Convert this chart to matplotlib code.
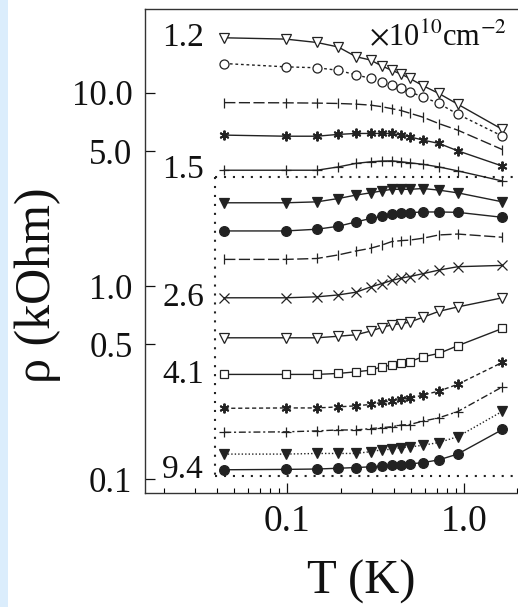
import matplotlib
matplotlib.use("Agg")
import matplotlib.pyplot as plt
from matplotlib.patches import Rectangle
import numpy as np

plt.rcParams['font.family'] = ['Liberation Serif', 'DejaVu Serif']
plt.rcParams['mathtext.fontset'] = 'stix'

# Temperaturen (K), gleich fuer alle Kurven
T = [0.044, 0.098, 0.147, 0.194, 0.245, 0.296, 0.342, 0.39, 0.442, 0.492, 0.586, 0.72, 0.92, 1.65]

# Widerstand (kOhm), von oben nach unten
rho_01 = [19.3, 19.0, 18.25, 17.3, 15.4, 14.8, 13.8, 13.1, 12.5, 11.9, 10.9, 9.94, 8.75, 6.47]
rho_02 = [14.2, 13.65, 13.5, 13.1, 12.4, 11.9, 11.4, 10.97, 10.55, 10.13, 9.54, 8.82, 7.77, 5.97]
rho_03 = [8.91, 8.89, 8.86, 8.82, 8.75, 8.65, 8.49, 8.29, 8.10, 7.86, 7.49, 6.94, 6.42, 5.09]
rho_04 = [6.05, 5.97, 5.97, 6.10, 6.17, 6.17, 6.17, 6.17, 6.05, 5.93, 5.70, 5.48, 5.02, 4.18]
rho_05 = [3.98, 3.98, 3.98, 4.14, 4.32, 4.40, 4.44, 4.45, 4.40, 4.35, 4.27, 4.14, 3.95, 3.50]
rho_06 = [2.70, 2.70, 2.73, 2.84, 2.96, 3.04, 3.11, 3.17, 3.17, 3.17, 3.20, 3.14, 3.04, 2.73]
rho_07 = [1.93, 1.93, 1.97, 2.04, 2.15, 2.24, 2.30, 2.35, 2.38, 2.40, 2.42, 2.42, 2.41, 2.27]
rho_08 = [1.375, 1.375, 1.39, 1.45, 1.52, 1.57, 1.63, 1.70, 1.72, 1.73, 1.77, 1.84, 1.86, 1.79]
rho_09 = [0.87, 0.87, 0.88, 0.90, 0.93, 0.99, 1.03, 1.07, 1.10, 1.12, 1.16, 1.21, 1.26, 1.28]
rho_10 = [0.54, 0.54, 0.54, 0.55, 0.56, 0.585, 0.61, 0.63, 0.64, 0.65, 0.69, 0.74, 0.78, 0.87]
rho_11 = [0.349, 0.349, 0.349, 0.353, 0.360, 0.367, 0.382, 0.390, 0.398, 0.406, 0.431, 0.448, 0.491, 0.604]
rho_12 = [0.233, 0.234, 0.234, 0.237, 0.240, 0.244, 0.250, 0.255, 0.260, 0.262, 0.273, 0.286, 0.310, 0.403]
rho_13 = [0.175, 0.176, 0.178, 0.180, 0.180, 0.183, 0.185, 0.187, 0.191, 0.192, 0.200, 0.208, 0.224, 0.301]
rho_14 = [0.135, 0.135, 0.136, 0.136, 0.136, 0.139, 0.142, 0.143, 0.146, 0.147, 0.150, 0.155, 0.166, 0.225]
rho_15 = [0.112, 0.1125, 0.113, 0.114, 0.115, 0.116, 0.117, 0.118, 0.119, 0.120, 0.122, 0.126, 0.135, 0.181]

curves = [rho_01, rho_02, rho_03, rho_04, rho_05, rho_06, rho_07, rho_08,
          rho_09, rho_10, rho_11, rho_12, rho_13, rho_14, rho_15]

# Dichten (1e10 cm^-2) und zugehoerige Kurve
dens_labels = ['1.2', '1.5', '2.6', '4.1', '9.4']
dens_curve = [0, 4, 8, 10, 14]

y_ticks = [0.1, 0.5, 1.0, 5.0, 10.0]
y_ticklabels = ['0.1', '0.5', '1.0', '5.0', '10.0']
x_ticks = [0.1, 1.0]
x_ticklabels = ['0.1', '1.0']

# gepunkteter Rahmen (T links, rho oben, rho unten)
box_T = 0.0389
box_top = 3.69
box_bottom = 0.1045

# Stil je Kurve: marker, gefuellt, linestyle, groesse
styles = [
    ('v', False, '-', 7),
    ('o', False, (0, (2, 2)), 6.5),
    ('|', False, (0, (8, 2.5)), 7),
    ((6, 2, 0), False, '-', 7),
    ('+', False, '-', 7.5),
    ('v', True, '-', 7.5),
    ('o', True, '-', 7),
    ('|', False, (0, (8, 2.5)), 7),
    ('x', False, '-', 6.5),
    ('v', False, '-', 7),
    ('s', False, '-', 6),
    ((6, 2, 0), False, (0, (3, 2)), 7),
    ('+', False, (0, (5, 2, 1.5, 2)), 7.5),
    ('v', True, (0, (1, 1.5)), 7.5),
    ('o', True, '-', 7),
]

col = '#222222'

fig = plt.figure(figsize=(5.18, 6.07), dpi=100)
fig.patch.set_facecolor('white')
fig.patches.append(Rectangle((0, 0), 8 / 518, 1, transform=fig.transFigure,
                             facecolor='#dbedfc', edgecolor='none', zorder=0))

ax = fig.add_axes([145 / 518, 114 / 607, 373 / 518, 484 / 607])
ax.set_xscale('log')
ax.set_yscale('log')

for rho, (m, filled, ls, ms) in zip(curves, styles):
    mew = 1.4 if isinstance(m, tuple) else 0.9
    ax.plot(T, rho, linestyle=ls, color=col, lw=1.0, marker=m, markersize=ms,
            markerfacecolor=col if filled else 'white', markeredgecolor=col,
            markeredgewidth=mew)

ax.set_xlim(0.01566, 2.02)
ax.set_ylim(0.0849, 27.2)

# gepunkteter Rahmen
dots = dict(color=col, lw=1.5, linestyle=(0, (1, 3.3)))
ax.plot([box_T, box_T], [box_top, box_bottom], **dots)
ax.plot([box_T, 2.02], [box_top, box_top], **dots)
ax.plot([box_T, 2.02], [box_bottom, box_bottom], **dots)

for lab, idx in zip(dens_labels, dens_curve):
    ax.text(0.0338, curves[idx][0], lab, ha='right', va='center', fontsize=24, color='#111111')

ax.text(0.60, 0.926, r'$\times$10$^{10}$cm$^{-2}$', transform=ax.transAxes,
        fontsize=22, ha='left', va='baseline', color='#111111')

ax.set_yticks(y_ticks)
ax.set_yticklabels(y_ticklabels)
ax.yaxis.set_minor_locator(matplotlib.ticker.NullLocator())
ax.set_xticks(x_ticks)
ax.set_xticklabels(x_ticklabels)
ax.tick_params(axis='y', which='major', direction='in', length=7, width=0.9,
               labelsize=25, pad=9, colors='#111111')
ax.tick_params(axis='x', which='major', direction='in', length=7, width=0.9,
               labelsize=27, pad=8, colors='#111111')
ax.tick_params(axis='x', which='minor', direction='in', length=3.5, width=0.8)

ax.spines['right'].set_visible(False)
for s in ['left', 'top', 'bottom']:
    ax.spines[s].set_linewidth(1.0)
    ax.spines[s].set_color('#333333')

ax.set_xlabel('T (K)', fontsize=35, color='#111111')
ax.xaxis.set_label_coords(0.5795, -0.138)
ax.set_ylabel('ρ (kOhm)', fontsize=36, color='#111111')
ax.yaxis.set_label_coords(-0.225, 0.43)

fig.savefig('out.png', dpi=100)
